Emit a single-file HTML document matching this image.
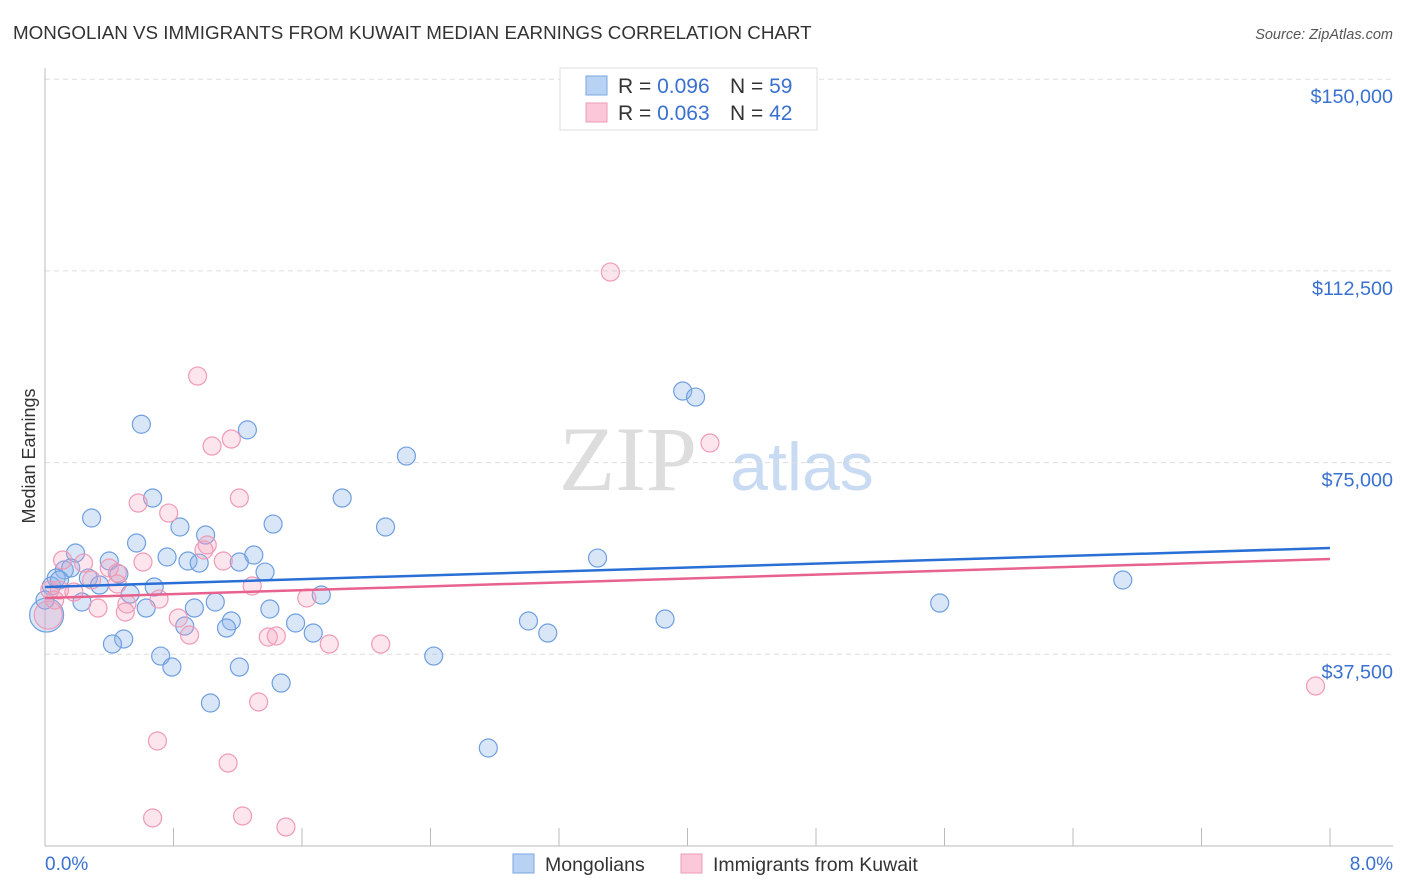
<!DOCTYPE html>
<html><head><meta charset="utf-8"><style>
body{margin:0;background:#fff;font-family:"Liberation Sans",sans-serif;}
#wrap{position:relative;width:1406px;height:892px;overflow:hidden;}
</style></head><body>
<div id="wrap">
<svg id="svg" width="1406" height="892" xmlns="http://www.w3.org/2000/svg">
<text x="13" y="39" font-size="18.8" fill="#333">MONGOLIAN VS IMMIGRANTS FROM KUWAIT MEDIAN EARNINGS CORRELATION CHART</text>
<text x="1393" y="39" font-size="14.5" fill="#555" font-style="italic" text-anchor="end">Source: ZipAtlas.com</text>
<text x="35" y="456" font-size="18" fill="#333" text-anchor="middle" transform="rotate(-90 35 456)">Median Earnings</text>
<g>
<text x="628" y="490" font-size="92" fill="#ddd" font-family="Liberation Serif,serif" text-anchor="middle">ZIP</text>
<text x="802" y="490" font-size="68" fill="#c9dbf3" text-anchor="middle">atlas</text>
</g>
<g id="grid"></g><g id="pts"></g><g id="lines"></g>
<g>
<rect x="560" y="68" width="257" height="62" fill="#fff" stroke="#ddd"/>
<rect x="586" y="76" width="21" height="19" fill="#b8d2f3" stroke="#7ba6e0"/>
<rect x="586" y="103" width="21" height="19" fill="#fac8d8" stroke="#ee9ab6"/>
<text x="618" y="93" font-size="21" fill="#333">R = <tspan fill="#3a70d0">0.096</tspan></text>
<text x="730" y="93" font-size="21" fill="#333">N = <tspan fill="#3a70d0">59</tspan></text>
<text x="618" y="120" font-size="21" fill="#333">R = <tspan fill="#3a70d0">0.063</tspan></text>
<text x="730" y="120" font-size="21" fill="#333">N = <tspan fill="#3a70d0">42</tspan></text>
</g>
<g>
<rect x="513" y="854" width="21" height="19" fill="#b8d2f3" stroke="#7ba6e0"/>
<text x="545" y="871" font-size="19.5" fill="#333">Mongolians</text>
<rect x="681" y="854" width="21" height="19" fill="#fac8d8" stroke="#ee9ab6"/>
<text x="713" y="871" font-size="19.5" fill="#333">Immigrants from Kuwait</text>
</g>
</svg>
</div>
<script>
const yTicks=[37500,75000,112500,150000];
const yTickLabels=["$37,500","$75,000","$112,500","$150,000"];
const xTickLabels=["0.0%","8.0%"];
const blueX=[0.60,1.26,0.67,0.29,0.84,1.00,1.42,0.57,0.19,0.40,0.76,0.89,0.96,1.21,1.30,0.46,1.37,0.12,0.16,0.07,0.27,0.34,0.68,0.53,1.72,0.04,0.23,0.63,0.93,1.06,1.40,1.56,1.16,1.13,0.87,1.67,0.49,0.42,0.72,0.79,1.21,1.47,1.03,1.85,2.25,2.12,2.42,2.76,3.01,3.13,3.44,3.86,3.97,4.05,5.57,6.71,0.01,0.00,0.09];
const blueY=[82500,81400,68070,64160,62400,60830,62980,59270,57310,55750,56530,55750,55350,55550,56920,53200,53590,53990,54380,52420,52420,51050,50660,49290,49100,50860,47730,46550,46550,47730,46360,43620,44010,42640,43030,41660,40490,39510,37160,35010,35010,31880,27970,68070,76280,62400,37160,19170,44010,41660,56330,44400,89000,87820,47530,52030,45180,48120,52030];
const pinkX=[3.52,0.95,1.04,1.16,1.21,0.58,0.77,1.01,0.99,0.61,1.11,0.40,0.24,0.11,0.03,0.09,0.18,0.29,0.45,0.51,0.50,0.33,0.71,0.83,0.90,1.39,1.44,1.63,1.29,1.77,2.09,1.33,0.70,1.14,0.67,1.23,1.50,4.14,7.91,0.02,0.06,0.45];
const pinkY=[112270,91930,78240,79610,68070,67090,65130,58880,57900,55550,55750,54380,55350,55940,50070,50070,49680,52030,51250,47340,45770,46550,48310,44600,41270,40880,41080,48510,50860,39510,39510,28170,20540,16230,5480,5870,3720,78830,31300,45180,48120,53400];
const blueTrend=[50660,58290];
const pinkTrend=[48510,56140];
const NS="http://www.w3.org/2000/svg";
const X0=45,X1=1330,Y0=846;
const sx=v=>X0+(v/8)*(X1-X0);
const sy=v=>Y0-(v/37500)*191.7;
function mk(tag,attrs,parent){const e=document.createElementNS(NS,tag);for(const k in attrs)e.setAttribute(k,attrs[k]);parent.appendChild(e);return e;}
const grid=document.getElementById('grid');
yTicks.forEach((t,i)=>{
  const l=mk('line',{x1:45,x2:1393,y1:sy(t),y2:sy(t),stroke:'#ddd','stroke-dasharray':'5,4'},grid);
  
  
  const tx=mk('text',{x:1393,y:sy(t)+24,'font-size':19.8,fill:'#3a70d0','text-anchor':'end'},grid);
  tx.textContent=yTickLabels[i];
  
  
});
const ax=mk('line',{x1:45,x2:1393,y1:846,y2:846,stroke:'#bbb'},grid);


const ay=mk('line',{x1:45,x2:45,y1:68,y2:846,stroke:'#bbb'},grid);


for(let k=0;k<=10;k++){
  const tk=mk('line',{x1:45+128.5*k,x2:45+128.5*k,y1:828,y2:846,stroke:'#bbb'},grid);
  
  
}
[[45,'start',xTickLabels[0]],[1393,'end',xTickLabels[1]]].forEach(([x,a,s])=>{
  const t=mk('text',{x:x,y:870,'font-size':19,fill:'#3a70d0','text-anchor':a},grid);
  t.textContent=s;
  
  
});
const pts=document.getElementById('pts');
function series(xs,ys,fill,stroke,name,bigR){
  xs.forEach((x,i)=>{
    const r=(i===xs.length-3)?bigR:9;
    const c=mk('circle',{cx:sx(x),cy:sy(ys[i]),r:r,fill:fill,stroke:stroke,'stroke-width':1.2},pts);
    
    
  });
}
series(blueX,blueY,'rgba(140,180,235,0.33)','#6f9fe0','mongolians-point',17);
series(pinkX,pinkY,'rgba(245,160,190,0.28)','#ef9ab6','kuwait-point',14);
const lines=document.getElementById('lines');
const bl=mk('line',{x1:sx(0),x2:sx(8),y1:sy(blueTrend[0]),y2:sy(blueTrend[1]),stroke:'#2a6fd6','stroke-width':2.5},lines);


const pl=mk('line',{x1:sx(0),x2:sx(8),y1:sy(pinkTrend[0]),y2:sy(pinkTrend[1]),stroke:'#e8628e','stroke-width':2.5},lines);


</script>
</body></html>
